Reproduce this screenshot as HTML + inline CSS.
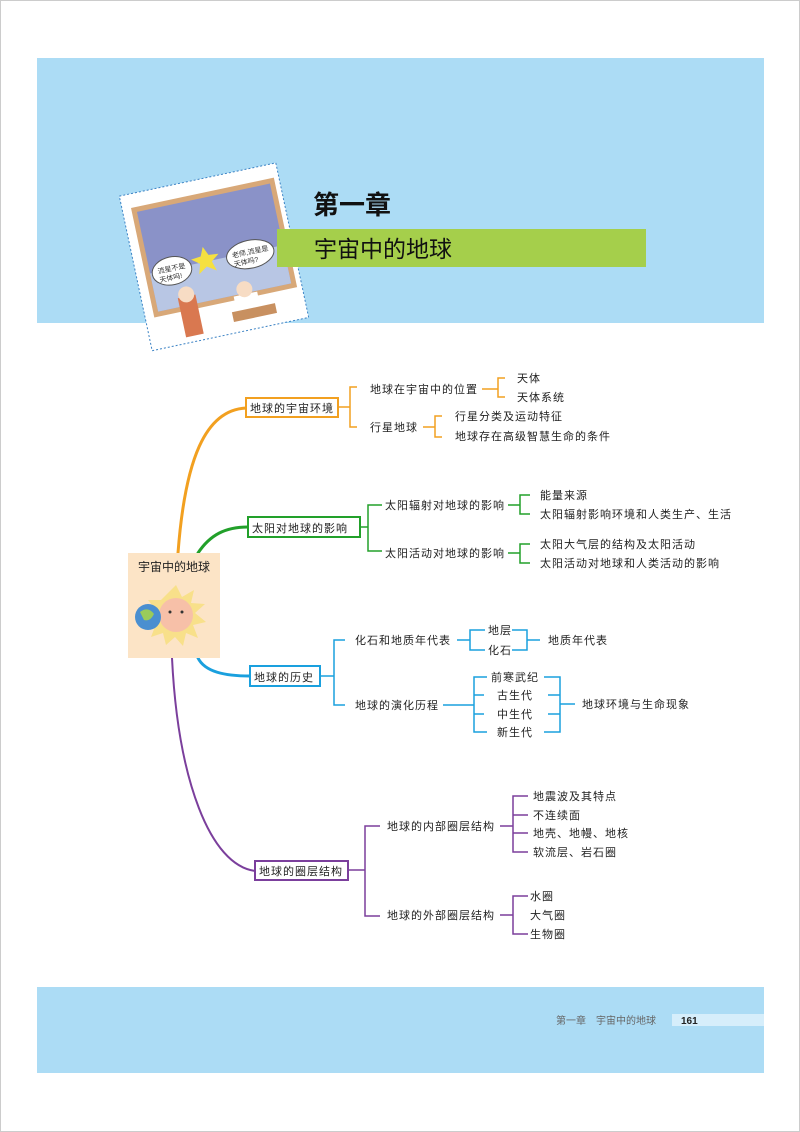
<!DOCTYPE html>
<html><head><meta charset="utf-8"><style>
html,body{margin:0;padding:0;background:#fff;}
svg{display:block;}
text{font-family:"Liberation Sans","Noto Sans CJK SC",sans-serif;}
.t text{letter-spacing:1px;}
</style></head><body>
<svg width="800" height="1132" viewBox="0 0 800 1132" xmlns="http://www.w3.org/2000/svg">
<rect x="0.5" y="0.5" width="799" height="1131" fill="#fff" stroke="#ccc"/>
<rect x="37" y="58" width="727" height="265" fill="#acdcf5"/>
<rect x="37" y="987" width="727" height="86" fill="#acdcf5"/>
<rect x="672" y="1014" width="92" height="12" fill="#d6eefb"/>
<text x="556" y="1024" font-size="10" fill="#666">第一章　宇宙中的地球</text>
<text x="681" y="1024" font-size="10" font-weight="bold" fill="#222">161</text>

<!-- cartoon -->
<g transform="rotate(-12 213 257)">
<rect x="134" y="178" width="160" height="158" fill="#fff" stroke="#3b82c4" stroke-dasharray="2,2"/>
<rect x="143" y="192" width="146" height="112" fill="#d8a878"/>
<rect x="148" y="197" width="136" height="102" fill="#8a92c8"/>
<rect x="148" y="260" width="136" height="39" fill="#b8c6e4"/>
<polygon points="205,245 209,254 219,255 211,261 214,271 205,265 196,271 199,261 191,255 201,254" fill="#f5e040"/>
<ellipse cx="170" cy="262" rx="20" ry="14" fill="#fff" stroke="#555"/>
<ellipse cx="250" cy="262" rx="24" ry="14" fill="#fff" stroke="#555"/>
<text x="156" y="262" font-size="7" fill="#333">流星不是</text>
<text x="156" y="271" font-size="7" fill="#333">天体吗!</text>
<text x="232" y="262" font-size="7" fill="#333">老师,流星是</text>
<text x="232" y="271" font-size="7" fill="#333">天体吗?</text>
<rect x="170" y="290" width="18" height="40" fill="#d97850"/>
<circle cx="179" cy="288" r="8" fill="#f7dcc4"/>
<rect x="225" y="300" width="24" height="20" fill="#fff"/>
<circle cx="237" cy="295" r="8" fill="#f7dcc4"/>
<rect x="220" y="315" width="44" height="10" fill="#c89060"/>
</g>

<text x="313" y="214" font-size="26" font-weight="bold" fill="#111">第一章</text>
<rect x="277" y="229" width="369" height="38" fill="#a5cf4b"/>
<text x="314" y="257" font-size="23" fill="#111">宇宙中的地球</text>

<!-- connectors from center -->
<g fill="none" stroke-linecap="round">
<path d="M178 553 C185 460 205 410 246 408" stroke="#f2a020" stroke-width="3"/>
<path d="M198 553 C210 535 225 527 248 527" stroke="#22a02a" stroke-width="3"/>
<path d="M198 658 C205 672 225 676 250 676" stroke="#1aa0de" stroke-width="3"/>
<path d="M172 658 C178 780 210 865 255 871" stroke="#7b3f9c" stroke-width="2"/>
</g>

<!-- center box -->
<rect x="128" y="553" width="92" height="105" fill="#fce4c6"/>
<text x="174" y="571" font-size="12" text-anchor="middle" fill="#222">宇宙中的地球</text>
<g>
<polygon points="176,585 182,597 194,590 191,603 205,604 195,613 206,622 193,625 198,638 186,633 183,646 175,637 166,645 163,633 151,637 156,624 145,618 156,610 148,600 161,600" fill="#f8e08a"/>
<circle cx="176" cy="615" r="17" fill="#f7c0a8"/>
<circle cx="148" cy="617" r="13" fill="#4a8fd0"/>
<path d="M140 612 q8 -6 14 2 q-4 8 -10 6z" fill="#9acb5a"/>
<circle cx="170" cy="612" r="1.5" fill="#333"/><circle cx="182" cy="612" r="1.5" fill="#333"/>
</g>

<g font-size="11" fill="#222" class="t">
<!-- branch 1 orange -->
<g stroke="#f2a020" fill="none" stroke-width="1.5">
<rect x="246" y="398" width="92" height="19" fill="#fff" stroke-width="2"/>
<path d="M338 407 H350 M357 387 H350 V427 H357 M482 389 H498 M505 378 H498 V397 H505 M423 427 H435 M442 416 H435 V437 H442"/>
</g>
<text x="250" y="412">地球的宇宙环境</text>
<text x="370" y="393">地球在宇宙中的位置</text>
<text x="517" y="382">天体</text>
<text x="517" y="401">天体系统</text>
<text x="370" y="431">行星地球</text>
<text x="455" y="420">行星分类及运动特征</text>
<text x="455" y="440">地球存在高级智慧生命的条件</text>

<!-- branch 2 green -->
<g stroke="#22a02a" fill="none" stroke-width="1.5">
<rect x="248" y="517" width="112" height="20" fill="#fff" stroke-width="2"/>
<path d="M360 527 H368 M382 505 H368 V551 H382 M508 505 H520 M530 495 H520 V514 H530 M508 553 H520 M530 544 H520 V563 H530"/>
</g>
<text x="252" y="532">太阳对地球的影响</text>
<text x="385" y="509">太阳辐射对地球的影响</text>
<text x="540" y="499">能量来源</text>
<text x="540" y="518">太阳辐射影响环境和人类生产、生活</text>
<text x="385" y="557">太阳活动对地球的影响</text>
<text x="540" y="548">太阳大气层的结构及太阳活动</text>
<text x="540" y="567">太阳活动对地球和人类活动的影响</text>

<!-- branch 3 blue -->
<g stroke="#1aa0de" fill="none" stroke-width="1.5">
<rect x="250" y="666" width="70" height="20" fill="#fff" stroke-width="2"/>
<path d="M320 676 H334 M345 640 H334 V705 H345 M457 640 H470 M485 630 H470 V650 H485 M512 630 H527 V650 H512 M527 640 H540 M443 705 H474 M487 677 H474 V732 H487 M474 695 H484 M474 714 H484 M544 677 H560 V732 H544 M548 695 H560 M548 714 H560 M560 704 H575"/>
</g>
<text x="254" y="681">地球的历史</text>
<text x="355" y="644">化石和地质年代表</text>
<text x="488" y="634">地层</text>
<text x="488" y="654">化石</text>
<text x="548" y="644">地质年代表</text>
<text x="355" y="709">地球的演化历程</text>
<text x="515" y="681" text-anchor="middle">前寒武纪</text>
<text x="515" y="699" text-anchor="middle">古生代</text>
<text x="515" y="718" text-anchor="middle">中生代</text>
<text x="515" y="736" text-anchor="middle">新生代</text>
<text x="582" y="708">地球环境与生命现象</text>

<!-- branch 4 purple -->
<g stroke="#7b3f9c" fill="none" stroke-width="1.5">
<rect x="255" y="861" width="93" height="19" fill="#fff" stroke-width="2"/>
<path d="M348 870 H365 M380 826 H365 V916 H380 M500 826 H513 M528 796 H513 V852 H528 M513 815 H528 M513 833 H528 M500 915 H513 M528 896 H513 V934 H528"/>
</g>
<text x="259" y="875">地球的圈层结构</text>
<text x="387" y="830">地球的内部圈层结构</text>
<text x="533" y="800">地震波及其特点</text>
<text x="533" y="819">不连续面</text>
<text x="533" y="837">地壳、地幔、地核</text>
<text x="533" y="856">软流层、岩石圈</text>
<text x="387" y="919">地球的外部圈层结构</text>
<text x="530" y="900">水圈</text>
<text x="530" y="919">大气圈</text>
<text x="530" y="938">生物圈</text>
</g>
</svg>
</body></html>
